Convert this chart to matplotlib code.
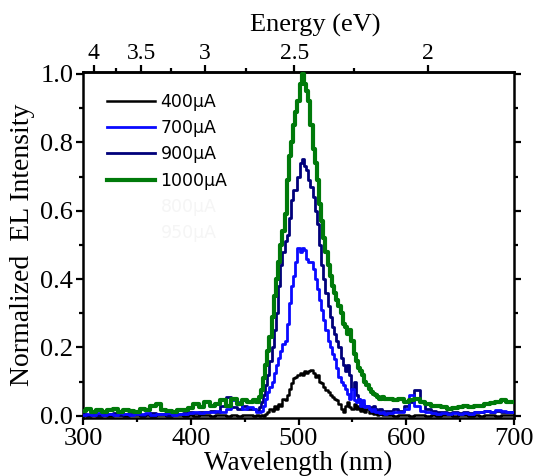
import numpy as np
import matplotlib
matplotlib.use("Agg")
import matplotlib.pyplot as plt
from matplotlib.lines import Line2D
from matplotlib.ticker import MultipleLocator

# wavelength grid (nm): coarse in the wings, finer across the peak
wl = np.concatenate([np.arange(300, 456, 5), np.arange(460, 581, 2), np.arange(585, 701, 5)])

i400 = [0.002, 0.001, 0.003, 0.001, 0.002, 0.001, 0.003, 0.002, 0.001, 0.002, 0.003, 0.001, 0.002, 0.001, 0.003, 0.002,
        0.001, 0.002, 0.003, 0.001, 0.002, 0.001, 0.003, 0.002, 0.001, 0.002, 0.003, 0.001, 0.002, 0.001, 0.003, 0.002,
        0.0, 0.002, 0.0, 0.003, 0.0, 0.005, 0.01, 0.02, 0.015, 0.03, 0.02, 0.035, 0.03, 0.05, 0.045, 0.06,
        0.08, 0.095, 0.11, 0.115, 0.12, 0.125, 0.12, 0.13, 0.125, 0.13, 0.135, 0.125, 0.115, 0.12, 0.10, 0.095,
        0.085, 0.075, 0.07, 0.06, 0.055, 0.05, 0.045, 0.035, 0.02, 0.01, 0.03, 0.04, 0.025, 0.02, 0.035, 0.02,
        0.03, 0.015, 0.025, 0.01, 0.02, 0.008, 0.015, 0.005, 0.01, 0.003, 0.005, 0.002, 0.002,
        0.002, 0.001, 0.003, 0.002, 0.001, 0.002, 0.003, 0.001, 0.002, 0.001, 0.003, 0.002, 0.001, 0.002, 0.003, 0.001,
        0.002, 0.001, 0.003, 0.002, 0.001, 0.002, 0.003, 0.002]

i700 = [0.003, 0.006, 0.004, 0.007, 0.004, 0.006, 0.003, 0.007, 0.005, 0.004, 0.006, 0.005, 0.007, 0.004, 0.006, 0.005,
        0.007, 0.004, 0.006, 0.005, 0.008, 0.01, 0.008, 0.012, 0.01, 0.015, 0.012, 0.02, 0.045, 0.04, 0.02, 0.025,
        0.02, 0.012, 0.01, 0.015, 0.03, 0.05, 0.07, 0.085, 0.10, 0.125, 0.15, 0.17, 0.19, 0.21, 0.22, 0.27,
        0.33, 0.38, 0.41, 0.45, 0.49, 0.48, 0.49, 0.485, 0.46, 0.45, 0.45, 0.43, 0.40, 0.37, 0.34, 0.31,
        0.28, 0.25, 0.22, 0.20, 0.18, 0.165, 0.14, 0.115, 0.10, 0.09, 0.08, 0.065, 0.05, 0.08, 0.045, 0.04,
        0.05, 0.03, 0.045, 0.025, 0.03, 0.02, 0.015, 0.02, 0.01, 0.012, 0.008, 0.01, 0.006,
        0.008, 0.01, 0.012, 0.02, 0.06, 0.03, 0.015, 0.01, 0.008, 0.006, 0.008, 0.005, 0.007, 0.006, 0.008, 0.006,
        0.01, 0.012, 0.015, 0.01, 0.018, 0.015, 0.012, 0.01]

i900 = [0.006, 0.004, 0.008, 0.003, 0.006, 0.005, 0.008, 0.004, 0.006, 0.005, 0.007, 0.004, 0.006, 0.008, 0.005, 0.006,
        0.004, 0.007, 0.005, 0.008, 0.01, 0.008, 0.012, 0.01, 0.015, 0.012, 0.03, 0.055, 0.025, 0.02, 0.03, 0.02,
        0.02, 0.015, 0.025, 0.04, 0.06, 0.09, 0.12, 0.16, 0.20, 0.25, 0.30, 0.38, 0.44, 0.48, 0.51, 0.53,
        0.58, 0.63, 0.66, 0.66, 0.70, 0.74, 0.75, 0.73, 0.72, 0.69, 0.67, 0.64, 0.60, 0.56, 0.50, 0.44,
        0.40, 0.36, 0.32, 0.29, 0.26, 0.24, 0.22, 0.20, 0.17, 0.15, 0.13, 0.15, 0.12, 0.08, 0.10, 0.06,
        0.05, 0.04, 0.035, 0.03, 0.03, 0.025, 0.02, 0.03, 0.02, 0.015, 0.02, 0.015, 0.015,
        0.015, 0.02, 0.015, 0.03, 0.04, 0.076, 0.04, 0.02, 0.015, 0.01, 0.012, 0.008, 0.01, 0.008, 0.01, 0.008,
        0.012, 0.01, 0.015, 0.012, 0.015, 0.012, 0.01, 0.01]

i1000 = [0.015, 0.02, 0.012, 0.018, 0.01, 0.016, 0.02, 0.012, 0.018, 0.015, 0.012, 0.02, 0.016, 0.028, 0.035, 0.018,
         0.015, 0.012, 0.018, 0.016, 0.022, 0.035, 0.025, 0.04, 0.028, 0.035, 0.045, 0.03, 0.05, 0.035, 0.045, 0.04,
         0.045, 0.04, 0.055, 0.076, 0.11, 0.15, 0.19, 0.23, 0.29, 0.35, 0.40, 0.45, 0.50, 0.54, 0.59, 0.69,
         0.76, 0.80, 0.85, 0.89, 0.92, 0.97, 1.0, 0.97, 0.95, 0.92, 0.85, 0.78, 0.74, 0.69, 0.62, 0.57,
         0.52, 0.48, 0.44, 0.41, 0.38, 0.36, 0.34, 0.32, 0.30, 0.27, 0.26, 0.24, 0.25, 0.22, 0.18, 0.16,
         0.14, 0.13, 0.12, 0.10, 0.09, 0.08, 0.07, 0.065, 0.06, 0.055, 0.05, 0.055, 0.05,
         0.05, 0.045, 0.05, 0.04, 0.045, 0.05, 0.04, 0.035, 0.03, 0.028, 0.025, 0.02, 0.022, 0.025, 0.028, 0.025,
         0.03, 0.03, 0.035, 0.038, 0.04, 0.045, 0.04, 0.042]

labels = ["400\u03bcA", "700\u03bcA", "900\u03bcA", "1000\u03bcA"]
hidden_labels = ["800\u03bcA", "950\u03bcA"]
energy_ticks = [4, 3.5, 3, 2.5, 2]

plt.rcParams['font.family'] = ['Liberation Serif', 'DejaVu Serif']

fig = plt.figure(figsize=(5.35, 4.76), dpi=100)
ax = fig.add_axes([0.155, 0.122, 0.806, 0.727])

ax.plot(wl, i400, color='black', lw=1.8, drawstyle='steps-mid', zorder=3, label=labels[0])
ax.plot(wl, i700, color='#0a0aff', lw=2.0, drawstyle='steps-mid', zorder=4, label=labels[1])
ax.plot(wl, i900, color='#00007a', lw=2.0, drawstyle='steps-mid', zorder=3.5, label=labels[2])
ax.plot(wl, i1000, color='#007a0a', lw=3.0, drawstyle='steps-mid', zorder=5, label=labels[3])

ax.set_xlim(300, 700)
ax.set_ylim(-0.006, 1.006)
ax.xaxis.set_major_locator(MultipleLocator(100))
ax.xaxis.set_minor_locator(MultipleLocator(50))
ax.yaxis.set_major_locator(MultipleLocator(0.2))
ax.yaxis.set_minor_locator(MultipleLocator(0.1))
ax.yaxis.set_major_formatter(plt.FormatStrFormatter('%.1f'))
ax.tick_params(axis='both', which='both', direction='out', width=1.6, labelsize=19)
ax.tick_params(axis='both', which='major', length=5)
ax.tick_params(axis='both', which='minor', length=3)
ax.tick_params(axis='y', which='both', right=True, pad=2)
ax.tick_params(axis='x', which='both', pad=2)
for s in ax.spines.values():
    s.set_linewidth(1.8)

ax.set_xlabel('Wavelength (nm)', fontsize=19.5)
ax.xaxis.set_label_coords(0.5, -0.095)
ax.set_ylabel('Normalized  EL Intensity', fontsize=20)
ax.yaxis.set_label_coords(-0.112, 0.5)

def to_energy(x):
    x = np.asarray(x, dtype=float)
    with np.errstate(divide='ignore'):
        return 1240.0 / x

secax = ax.secondary_xaxis('top', functions=(to_energy, to_energy))
secax.set_xticks(energy_ticks)
secax.set_xticklabels([str(e) for e in energy_ticks])
secax.set_xticks([3.75, 3.25, 2.75, 2.25], minor=True)
secax.tick_params(which='both', direction='out', width=1.6, labelsize=17, pad=1)
secax.tick_params(which='major', length=5)
secax.tick_params(which='minor', length=3)
secax.spines['top'].set_linewidth(1.8)
fig.text(315 / 535, 1 - 25 / 476, 'Energy (eV)', fontsize=19, ha='center', va='center')

handles, _ = ax.get_legend_handles_labels()
handles += [Line2D([], [], color='white', lw=1.5), Line2D([], [], color='white', lw=1.5)]
leg = ax.legend(handles, labels + hidden_labels, loc='upper left', bbox_to_anchor=(0.055, 0.94),
                frameon=False, borderpad=0, borderaxespad=0, handlelength=2.8, handletextpad=0.3,
                labelspacing=0.48, prop={'family': 'DejaVu Sans', 'size': 12.5})
for t in leg.get_texts()[4:]:
    t.set_color('#f5f5f5')

fig.savefig('out.png', dpi=100)
